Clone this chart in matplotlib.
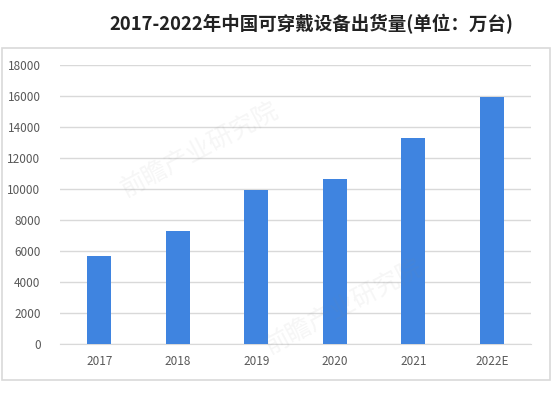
import matplotlib
matplotlib.use("Agg")
import matplotlib.pyplot as plt
from matplotlib.patches import Rectangle

plt.rcParams['font.family'] = ['Noto Sans CJK SC', 'DejaVu Sans']

# data
years = ['2017', '2018', '2019', '2020', '2021', '2022E']
shipments = [5700, 7300, 9950, 10650, 13300, 15950]
y_ticks = [0, 2000, 4000, 6000, 8000, 10000, 12000, 14000, 16000, 18000]
title = '2017-2022年中国可穿戴设备出货量(单位：万台)'

fig = plt.figure(figsize=(5.54, 3.93), dpi=100)
ax = fig.add_axes([60 / 554, 1 - 344 / 393, 471 / 554, 279 / 393])

# outer light frame around the chart area
fig.patches.append(Rectangle((2 / 554, 1 - 380 / 393), 548 / 554, 332 / 393,
                             transform=fig.transFigure, fill=False,
                             edgecolor='#d9d9d9', linewidth=1.2))

x = range(len(years))
ax.bar(x, shipments, width=0.31, color='#3f84e0', zorder=3)

ax.set_xlim(-0.5, len(years) - 0.5)
ax.set_ylim(0, 18000)
ax.set_yticks(y_ticks)
ax.set_yticklabels([str(t) for t in y_ticks])
ax.set_xticks(list(x))
ax.set_xticklabels(years)
ax.yaxis.grid(True, color='#d9d9d9', linewidth=1, zorder=0)
ax.tick_params(axis='both', length=0, labelsize=8.5, colors='#595959')
ax.tick_params(axis='y', pad=14)
ax.tick_params(axis='x', pad=8)
for side in ['top', 'right', 'left']:
    ax.spines[side].set_visible(False)
ax.spines['bottom'].set_color('#d9d9d9')

fig.text(311 / 554, 1 - 24 / 393, title, ha='center', va='center',
         fontsize=13.3, fontweight='bold', color='#222222')

# faint watermark
for wx, wy in [(0.36, 0.62), (0.62, 0.22)]:
    fig.text(wx, wy, '前瞻产业研究院', fontsize=18, color='#888888', alpha=0.08,
             rotation=28, ha='center', va='center')

fig.savefig('out.png', dpi=100)
